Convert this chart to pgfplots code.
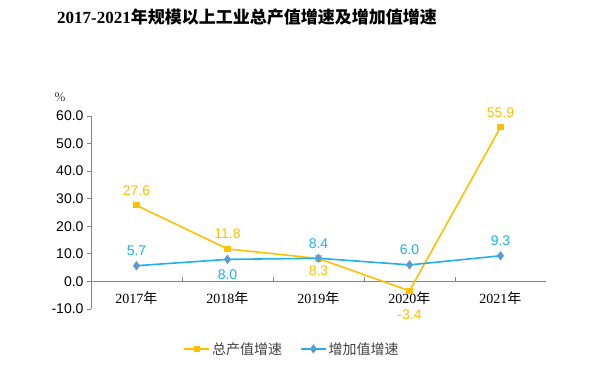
\documentclass[border=0pt]{standalone}
\usepackage{pgfplots}
\pgfplotsset{compat=1.18}
\usepackage{fontspec}
\setmainfont{Liberation Sans}
\newfontfamily\serif{Liberation Serif}
\newfontfamily\cjk{Noto Sans CJK SC}
\definecolor{corange}{HTML}{FFC000}
\definecolor{cblue}{HTML}{1CB0EE}
\definecolor{cbluemark}{HTML}{5B9BD5}
\definecolor{axisgray}{HTML}{868686}
\definecolor{txt}{HTML}{404040}

\pgfplotsset{lbl/.style n args={3}{
  forget plot, draw=none, mark=none,
  point meta=explicit symbolic,
  nodes near coords,
  every node near coord/.append style={anchor=#2, yshift=#3, font=\fontsize{14}{16}\selectfont, text=#1},
}}

\begin{document}
\begin{tikzpicture}[x=1pt,y=1pt]
\path[use as bounding box] (0,0) rectangle (590,369);
\node[font=\fontsize{17}{19}\selectfont\bfseries, text=black] at (247,352) {{\serif 2017-2021}{\cjk 年规模以上工业总产值增速及增加值增速}};
\begin{axis}[at={(91pt,60pt)}, anchor=south west, scale only axis,
  width=455pt, height=193pt,
  xmin=-0.5, xmax=4.5, ymin=-10, ymax=60,
  axis x line=middle, axis y line=left,
  axis line style={-, draw=axisgray, line width=0.8pt},
  hide obscured y ticks=false, hide obscured x ticks=false,
  xtick={0,...,4},
  xticklabels={{\serif 2017}{\cjk 年},{\serif 2018}{\cjk 年},{\serif 2019}{\cjk 年},{\serif 2020}{\cjk 年},{\serif 2021}{\cjk 年}},
  x tick label style={font=\fontsize{14}{16}\selectfont, text=black, anchor=center, yshift=-17pt},
  major x tick style={draw=none},
  minor xtick={0.5,1.5,2.5,3.5},
  minor x tick style={draw=axisgray, line width=0.8pt},
  minor tick length=4pt,
  xtick align=inside,
  ytick={-10,0,...,60},
  yticklabels={-10.0,0.0,10.0,20.0,30.0,40.0,50.0,60.0},
  y tick label style={font=\fontsize{14}{16}\selectfont, text=black},
  ytick align=outside, major tick length=4pt,
  major y tick style={draw=axisgray, line width=0.8pt},
  clip=false,
  legend style={at={(0.442,-0.207)}, anchor=center, draw=none, fill=none,
    legend columns=2, font=\cjk\fontsize{14}{16}\selectfont, text=txt,
    /tikz/every even column/.append style={column sep=16pt}},
  legend image code/.code={\draw[mark repeat=2,mark phase=2,#1] plot coordinates {(0pt,0pt) (12.5pt,0pt) (25pt,0pt)};},
]
\addplot[color=corange, line width=1.6pt, mark=square*, mark size=2.3pt,
  mark options={fill=corange, draw=corange, solid}]
  coordinates {(0,27.6) (1,11.8) (2,8.3) (3,-3.4) (4,55.9)};
\addlegendentry{总产值增速}
\addplot[color=cblue, line width=1.6pt, mark=diamond*, mark size=3.4pt,
  mark options={fill=cbluemark, draw=cbluemark, solid}]
  coordinates {(0,5.7) (1,8.0) (2,8.4) (3,6.0) (4,9.3)};
\addlegendentry{增加值增速}
% data labels
\addplot[lbl={corange}{south}{6.5pt}] coordinates {(0,27.6) [27.6] (1,11.8) [11.8] (4,55.9) [55.9]};
\addplot[lbl={corange}{north}{-3.7pt}] coordinates {(2,8.3) [8.3]};
\addplot[lbl={corange}{north}{-15.7pt}] coordinates {(3,-3.4) [-3.4]};
\addplot[lbl={cblue}{south}{6.5pt}] coordinates {(0,5.7) [5.7] (2,8.4) [8.4] (3,6.0) [6.0] (4,9.3) [9.3]};
\addplot[lbl={cblue}{north}{-6.7pt}] coordinates {(1,8.0) [8.0]};
\node[font=\serif\fontsize{13}{15}\selectfont, text=txt] at (rel axis cs:-0.068,1.098) {\%};
\end{axis}
\end{tikzpicture}
\end{document}
